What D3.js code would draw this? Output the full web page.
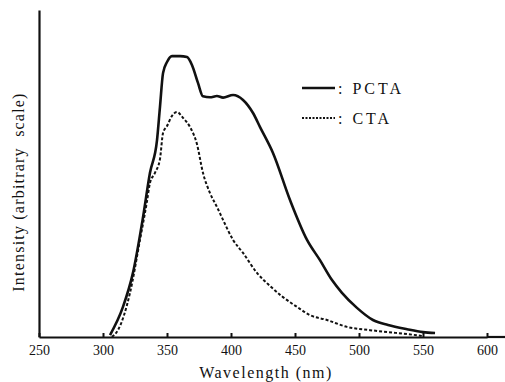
<!DOCTYPE html>
<html><head><meta charset="utf-8">
<script src="https://cdn.jsdelivr.net/npm/d3@7"></script>
<style>
html,body{margin:0;padding:0;background:#fff;}
svg{display:block;}
</style></head>
<body>
<svg id="chart" width="505" height="382"></svg>
<script>
const xTicks = [250, 300, 350, 400, 450, 500, 550, 600];
const seriesNames = ["PCTA", "CTA"];
const pctaWavelength = [305.5, 315.6, 323.4, 331.3, 336.7, 342.2, 344.5, 346.9, 350, 353.9, 360.2, 365.6, 369.5, 374.2, 378.1, 383.6, 389, 393.8, 401.6, 409.4, 417.2, 422.7, 432.8, 446.1, 459.4, 469.5, 478.9, 486.7, 498.4, 510.9, 522.7, 537.5, 550, 559.4];
const pctaIntensity = [0.6, 9.2, 19.6, 36.7, 50.2, 60.2, 70.3, 80.7, 84.1, 85.9, 85.9, 85.6, 83.2, 77.7, 73.6, 73.3, 73.7, 73.2, 74, 72.5, 68.5, 64.2, 56.3, 41.9, 29.7, 23.5, 17.4, 13.5, 8.9, 5.2, 3.7, 2.4, 1.5, 1.2];
const ctaWavelength = [307, 311.7, 321.1, 328.9, 334.4, 336.7, 340.6, 344.5, 346.9, 350, 353.9, 357.8, 362.5, 368, 373.4, 378.1, 383.6, 389, 393.8, 401.6, 409.4, 420.3, 430.5, 440.6, 451.6, 461.7, 475, 490.6, 508.6, 522.7, 537.5, 550];
const ctaIntensity = [0, 2.1, 13.5, 29.7, 41.6, 47.1, 50.2, 54.4, 62.4, 64.5, 67.6, 68.8, 67, 64.2, 59, 50.2, 44, 39.8, 35.8, 29.7, 25.7, 19.6, 15.6, 12.2, 9.2, 6.7, 5.2, 3.1, 2.1, 1.5, 0.9, 0.3];

const FONT = '"Liberation Serif","Times New Roman",Times,"DejaVu Serif",serif';
const svg = d3.select("#chart");
const W = 505, H = 382;
const x = d3.scaleLinear().domain([250, 600]).range([39, 487]);
const y = d3.scaleLinear().domain([0, 100]).range([337, 10]);

// axes
const xAxis = d3.axisBottom(x).tickValues(xTicks).tickSize(-4).tickSizeOuter(0).tickFormat(d3.format("d"));
const gx = svg.append("g").attr("transform", "translate(0,337)").call(xAxis)
  .attr("font-family", FONT).attr("font-size", 14);
gx.select(".domain").attr("stroke", "#111").attr("stroke-width", 2.2);
gx.selectAll(".tick line").attr("stroke", "#111").attr("stroke-width", 2);
gx.selectAll(".tick text").attr("y", 18).attr("dy", 0)
  .style("font-size", "14px").style("font-family", FONT).attr("fill", "#111");
svg.append("line").attr("x1", x.range()[1]).attr("x2", W).attr("y1", 337).attr("y2", 337)
  .attr("stroke", "#111").attr("stroke-width", 2.2);

const yAxis = d3.axisLeft(y).tickValues([]).tickSizeOuter(0);
const gy = svg.append("g").attr("transform", "translate(39,0)").call(yAxis);
gy.select(".domain").attr("stroke", "#111").attr("stroke-width", 2.2);

// labels
svg.append("text").attr("x", 266).attr("y", 378).attr("text-anchor", "middle")
  .style("font-family", FONT).style("font-size", "16px").style("letter-spacing", "1.5px")
  .attr("fill", "#111").text("Wavelength (nm)");
svg.append("text").attr("transform", "translate(24,192) rotate(-90)").attr("text-anchor", "middle")
  .style("font-family", FONT).style("font-size", "16px").style("letter-spacing", "1.2px")
  .attr("fill", "#111").style("white-space", "pre")
  .text("Intensity (arbitrary  scale)");

// lines
const line = d3.line().x(d => x(d[0])).y(d => y(d[1])).curve(d3.curveMonotoneX);
const pcta = d3.zip(pctaWavelength, pctaIntensity);
const cta = d3.zip(ctaWavelength, ctaIntensity);
svg.append("path").datum(pcta).attr("d", line).attr("fill", "none")
  .attr("stroke", "#111").attr("stroke-width", 2.6).attr("stroke-linejoin", "round");
svg.append("path").datum(cta).attr("d", line).attr("fill", "none")
  .attr("stroke", "#111").attr("stroke-width", 2).attr("stroke-dasharray", "3,2");

// legend
const leg = [{name: seriesNames[0], y: 88, dash: null, w: 2.6}, {name: seriesNames[1], y: 118, dash: "2,1.5", w: 1.8}];
leg.forEach(l => {
  svg.append("line").attr("x1", 302).attr("x2", 335).attr("y1", l.y).attr("y2", l.y)
    .attr("stroke", "#111").attr("stroke-width", l.w).attr("stroke-dasharray", l.dash);
  svg.append("text").attr("x", 338).attr("y", l.y + 6)
    .style("font-family", FONT).style("font-size", "16px")
    .style("letter-spacing", "3px").style("white-space", "pre").attr("fill", "#111")
    .text(": " + l.name);
});
</script>
</body></html>
